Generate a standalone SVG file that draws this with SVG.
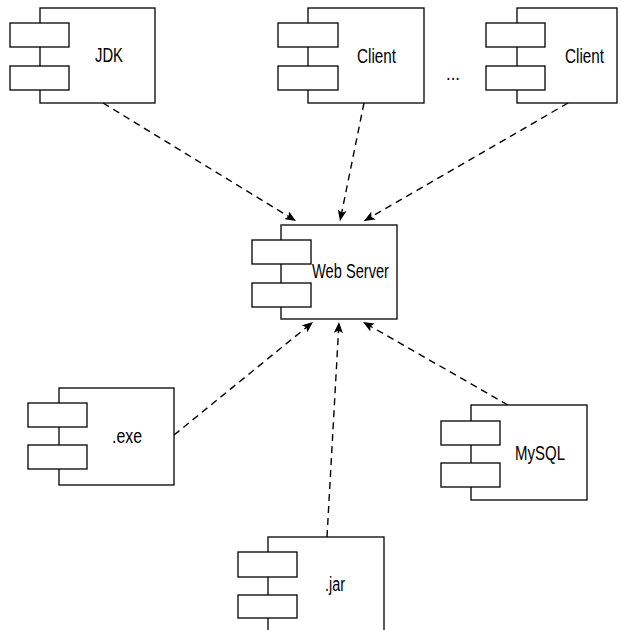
<svg xmlns="http://www.w3.org/2000/svg" width="621" height="630" viewBox="0 0 621 630">
<defs>
<style>
.box{fill:#fff;stroke:#000;stroke-width:1.3}
.port{fill:#fff;stroke:#000;stroke-width:1.3}
.lbl{font-family:"Liberation Sans Narrow","Liberation Sans",Arial,sans-serif;font-size:20px;fill:#000}
.dep{fill:none;stroke:#000;stroke-width:1.4;stroke-dasharray:7,5;marker-end:url(#ah)}
</style>
<marker id="ah" viewBox="0 0 11 9" refX="11" refY="4.5" markerWidth="11" markerHeight="9" markerUnits="userSpaceOnUse" orient="auto">
<path d="M0,0 L11,4.5 L0,9 L2.5,4.5 Z" fill="#000"/>
</marker>
</defs>
<rect width="621" height="630" fill="#fff"/>
<g id="connectors">
<line class="dep" x1="103" y1="103" x2="296" y2="221"/>
<line class="dep" x1="364" y1="103" x2="340" y2="221"/>
<line class="dep" x1="568" y1="103" x2="364" y2="221"/>
<line class="dep" x1="174" y1="435" x2="313" y2="322"/>
<line class="dep" x1="327" y1="537" x2="339" y2="322"/>
<line class="dep" x1="508" y1="405" x2="363" y2="322"/>
</g>
<g id="jdk">
<rect class="box" x="40" y="8" width="115" height="95"/>
<rect class="port" x="10" y="23" width="59" height="24"/>
<rect class="port" x="10" y="66" width="59" height="24"/>
<text class="lbl" x="95" y="62" textLength="28" lengthAdjust="spacingAndGlyphs">JDK</text>
</g>
<g id="client1">
<rect class="box" x="308" y="8" width="116" height="95"/>
<rect class="port" x="278" y="23" width="60" height="24"/>
<rect class="port" x="278" y="66" width="60" height="24"/>
<text class="lbl" x="357" y="63" textLength="39" lengthAdjust="spacingAndGlyphs">Client</text>
</g>
<g id="ellipsis">
<text class="lbl" x="446" y="80" textLength="14" lengthAdjust="spacingAndGlyphs">...</text>
</g>
<g id="client2">
<rect class="box" x="517" y="8" width="100" height="95"/>
<rect class="port" x="486" y="23" width="59" height="24"/>
<rect class="port" x="486" y="66" width="59" height="24"/>
<text class="lbl" x="565" y="63" textLength="39" lengthAdjust="spacingAndGlyphs">Client</text>
</g>
<g id="webserver">
<rect class="box" x="281" y="225" width="116" height="94"/>
<rect class="port" x="252" y="240" width="59" height="24"/>
<rect class="port" x="252" y="283" width="59" height="24"/>
<text class="lbl" x="312" y="278" textLength="77" lengthAdjust="spacingAndGlyphs">Web Server</text>
</g>
<g id="exe">
<rect class="box" x="59" y="388" width="115" height="97"/>
<rect class="port" x="28" y="403" width="59" height="24"/>
<rect class="port" x="28" y="445" width="59" height="24"/>
<text class="lbl" x="112" y="443" textLength="30" lengthAdjust="spacingAndGlyphs">.exe</text>
</g>
<g id="mysql">
<rect class="box" x="471" y="405" width="116" height="95"/>
<rect class="port" x="441" y="421" width="59" height="24"/>
<rect class="port" x="441" y="463" width="59" height="24"/>
<text class="lbl" x="515" y="460" textLength="50" lengthAdjust="spacingAndGlyphs">MySQL</text>
</g>
<g id="jar">
<rect class="box" x="268" y="537" width="116" height="100"/>
<rect class="port" x="238" y="552" width="59" height="25"/>
<rect class="port" x="238" y="595" width="59" height="23"/>
<text class="lbl" x="325" y="591" textLength="20" lengthAdjust="spacingAndGlyphs">.jar</text>
</g>
</svg>
